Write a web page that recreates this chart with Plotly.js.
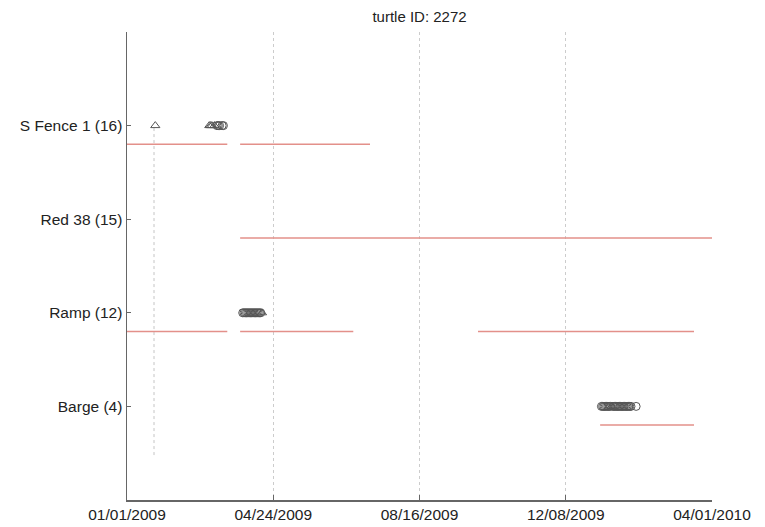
<!DOCTYPE html>
<html>
<head>
<meta charset="utf-8">
<script src="https://cdn.plot.ly/plotly-3.0.1.min.js"></script>
<style>html,body{margin:0;padding:0;background:#fff;}#chart{width:765px;height:527px;}</style>
</head>
<body>
<div id="chart"></div>
<script>
// Categories (y positions 1..4)
const categoryLabels = ['Barge (4)', 'Ramp (12)', 'Red 38 (15)', 'S Fence 1 (16)'];
const categoryLevels = [1, 2, 3, 4];

// X tick labels / positions (evenly spaced over the date range)
const tickDates = ['2009-01-01 00:00', '2009-04-24 18:00', '2009-08-16 12:00', '2009-12-08 06:00', '2010-04-01 00:00'];
const tickLabels = ['01/01/2009', '04/24/2009', '08/16/2009', '12/08/2009', '04/01/2010'];

// Presence periods (red lines), per receiver level
const segLevel = [4, 4, 3, 2, 2, 2, 1];
const segStart = ['2009-01-01', '2009-03-30', '2009-03-30', '2009-01-01', '2009-03-30', '2009-10-01', '2010-01-04'];
const segEnd   = ['2009-03-20', '2009-07-09', '2010-04-01', '2009-03-20', '2009-06-26', '2010-03-18', '2010-03-18'];

// Detections: triangles and circles
const triDates  = ['2009-01-23', '2009-03-06', '2009-03-07', '2009-03-08', '2009-03-10', '2009-04-16', '2010-01-13'];
const triLevels = [4, 4, 4, 4, 4, 2, 1];
const circDates = ['2009-03-12', '2009-03-13', '2009-03-14', '2009-03-16', '2009-03-17',
  '2009-04-01', '2009-04-02', '2009-04-03', '2009-04-04', '2009-04-05', '2009-04-06', '2009-04-07', '2009-04-08',
  '2009-04-09', '2009-04-10', '2009-04-11', '2009-04-12', '2009-04-13', '2009-04-14', '2009-04-15',
  '2010-01-05', '2010-01-06', '2010-01-07', '2010-01-08', '2010-01-09', '2010-01-10', '2010-01-11', '2010-01-12',
  '2010-01-14', '2010-01-15', '2010-01-16', '2010-01-17', '2010-01-18', '2010-01-19', '2010-01-20', '2010-01-21',
  '2010-01-22', '2010-01-23', '2010-01-24', '2010-01-25', '2010-01-26', '2010-01-27', '2010-01-28', '2010-02-01'];
const circLevels = [4, 4, 4, 4, 4,
  2, 2, 2, 2, 2, 2, 2, 2, 2, 2, 2, 2, 2, 2, 2,
  1, 1, 1, 1, 1, 1, 1, 1, 1, 1, 1, 1, 1, 1, 1, 1, 1, 1, 1, 1, 1, 1, 1, 1];

// Release/marker date dotted line
const markDate = ['2009-01-22', '2009-01-22'];
const markRange = [0.48, 4.0];

const lineOffset = 0.2;

const segX = [], segY = [];
for (let i = 0; i < segLevel.length; i++) {
  segX.push(segStart[i], segEnd[i], null);
  segY.push(segLevel[i] - lineOffset, segLevel[i] - lineOffset, null);
}

const traces = [
  {x: markDate, y: markRange, mode: 'lines', line: {color: '#c4c4c4', width: 1, dash: 'dot'}, hoverinfo: 'skip', showlegend: false},
  {x: segX, y: segY, mode: 'lines', line: {color: '#e3908a', width: 1.5}, showlegend: false},
  {x: circDates, y: circLevels, mode: 'markers', marker: {symbol: 'circle-open', size: 8, color: '#555', line: {width: 1}}, showlegend: false},
  {x: triDates, y: triLevels, mode: 'markers', marker: {symbol: 'triangle-up-open', size: 8, color: '#555', line: {width: 1}}, showlegend: false}
];

const layout = {
  width: 765, height: 527,
  margin: {l: 127, r: 53, t: 32, b: 27},
  paper_bgcolor: '#fff', plot_bgcolor: '#fff',
  font: {family: 'Liberation Sans, Arial, sans-serif', size: 15, color: '#222'},
  title: {text: 'turtle ID: 2272', x: 0.5, xref: 'paper', xanchor: 'center', y: 1 - 17/527, yref: 'container', yanchor: 'middle', font: {size: 15, color: '#222'}},
  xaxis: {
    type: 'date', range: ['2009-01-01', '2010-04-01'],
    tickmode: 'array', tickvals: tickDates, ticktext: tickLabels,
    ticks: 'inside', ticklen: 5, tickcolor: '#666',
    showgrid: true, gridcolor: '#cccccc', griddash: 'dot', gridwidth: 1,
    showline: true, linecolor: '#666', linewidth: 1.5,
    zeroline: false, tickfont: {size: 15.5, color: '#222'}, fixedrange: true
  },
  yaxis: {
    range: [0, 5], tickmode: 'array', tickvals: categoryLevels, ticktext: categoryLabels,
    ticks: 'inside', ticklen: 4, tickcolor: '#666',
    showgrid: false, zeroline: false,
    showline: true, linecolor: '#666', linewidth: 1.5,
    tickfont: {size: 15.5, color: '#222'}, fixedrange: true
  },
  showlegend: false
};

Plotly.newPlot('chart', traces, layout, {displayModeBar: false, staticPlot: true});
</script>
</body>
</html>
